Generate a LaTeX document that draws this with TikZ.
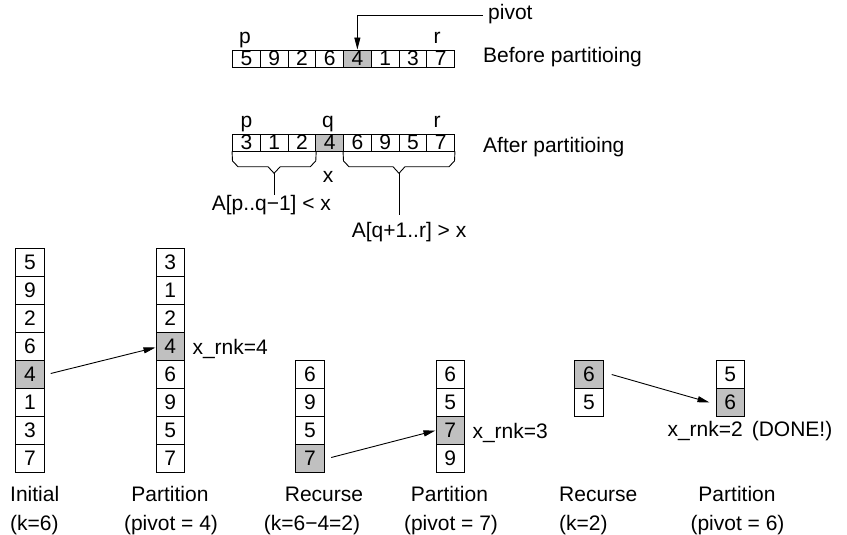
\documentclass[tikz,border=0pt]{standalone}
\usepackage{fontspec}
\setmainfont{Liberation Sans}
\usetikzlibrary{arrows.meta,calc}
\definecolor{cellgray}{RGB}{192,192,192}
\newcommand\lbfont{\fontsize{21}{25}\selectfont}
\begin{document}
\begin{tikzpicture}[x=1pt,y=-1pt,
  ln/.style={line width=0.9pt},
  cellA/.style={draw,line width=0.9pt,minimum width=27.75pt,minimum height=17pt,inner sep=0pt,font=\lbfont},
  cellB/.style={draw,line width=0.9pt,minimum width=28.5pt,minimum height=28pt,inner sep=0pt,font=\lbfont},
  hl/.style={fill=cellgray},
  pl/.style={},
  arr/.style={line width=0.9pt,-{Triangle[length=12pt,width=6pt]}},
  lbl/.style={inner sep=0pt,font=\lbfont}]
\fill[white] (0,0) rectangle (847,535);
\useasboundingbox (0,0) rectangle (847,535);

% before partitioning
\foreach \v/\s [count=\i] in {5/pl,9/pl,2/pl,6/pl,4/hl,1/pl,3/pl,7/pl}
  \node[cellA,\s] (b\i) at ({232.5+(\i-0.5)*27.75},58.5) {\v};
\node[lbl,anchor=base] (bp) at (245,43.5) {p};
\node[lbl,anchor=base] (br) at (437,43.5) {r};
\node[lbl,anchor=base west] (btxt) at (483,63) {Before partitioing};
\node[lbl,anchor=base west] (pivl) at (488,20) {pivot};
\coordinate (pv) at (483,15);
\draw[arr] (pv) -| (b5.north);

% after partitioning
\foreach \v/\s [count=\i] in {3/pl,1/pl,2/pl,4/hl,6/pl,9/pl,5/pl,7/pl}
  \node[cellA,\s] (a\i) at ({232.5+(\i-0.5)*27.75},142.5) {\v};
\node[lbl,anchor=base] (ap) at (246.5,128) {p};
\node[lbl,anchor=base] (aq) at (328,128) {q};
\node[lbl,anchor=base] (ar) at (437,128) {r};
\node[lbl,anchor=base west] (atxt) at (483,153) {After partitioing};
\node[lbl,anchor=base] (ax) at (328,182) {x};

\draw[ln] (a1.south west) -- (232.5,161) -- (238,166.7) -- (268,166.7) -- (274.1,173.3)
  -- (280.2,166.7) -- (310.25,166.7) -- (315.75,161) -- (a3.south east);
\draw[ln] (a5.south west) -- (343.5,161) -- (349,166.7) -- (393,166.7) -- (399,173.3)
  -- (405,166.7) -- (449,166.7) -- (454.5,161) -- (a8.south east);
\coordinate (lt) at (274.1,173.3);
\coordinate (le) at (274.1,195);
\coordinate (rt) at (399,173.3);
\coordinate (re) at (399,215);
\draw[ln] (lt) -- (le);
\draw[ln] (rt) -- (re);
\node[lbl,anchor=base west] (ll) at (211.7,210) {A[p..q−1] < x};
\node[lbl,anchor=base west] (rl) at (351.7,237) {A[q+1..r] > x};

% columns
\foreach \v/\s [count=\i] in {5/pl,9/pl,2/pl,6/pl,4/hl,1/pl,3/pl,7/pl}
  \node[cellB,\s] (c1\i) at (30,{248.5+(\i-0.5)*28}) {\v};
\foreach \v/\s [count=\i] in {3/pl,1/pl,2/pl,4/hl,6/pl,9/pl,5/pl,7/pl}
  \node[cellB,\s] (c2\i) at (170.2,{248.5+(\i-0.5)*28}) {\v};
\foreach \v/\s [count=\i] in {6/pl,9/pl,5/pl,7/hl}
  \node[cellB,\s] (c3\i) at (310,{360.5+(\i-0.5)*28}) {\v};
\foreach \v/\s [count=\i] in {6/pl,5/pl,7/hl,9/pl}
  \node[cellB,\s] (c4\i) at (450.2,{360.5+(\i-0.5)*28}) {\v};
\foreach \v/\s [count=\i] in {6/hl,5/pl}
  \node[cellB,\s] (c5\i) at (589,{360.5+(\i-0.5)*28}) {\v};
\foreach \v/\s [count=\i] in {5/pl,6/hl}
  \node[cellB,\s] (c6\i) at (730.2,{360.5+(\i-0.5)*28}) {\v};

\draw[arr] ($(c15.east)+(6,-1)$) -- ($(c24.west)+(0,1)$);
\draw[arr] ($(c34.east)+(6.5,-1)$) -- (c43.west);
\draw[arr] ($(c51.east)+(8,0)$) -- ($(c62.west)+(-6,0)$);

\node[lbl,anchor=base west] (xr4) at ($(c24.east)+(7.4,8)$) {x\_rnk=4};
\node[lbl,anchor=base west] (xr3) at ($(c43.east)+(7.4,7.5)$) {x\_rnk=3};
\node[lbl,anchor=base west] (xr2) at (667.3,436.5) {x\_rnk=2\hspace{9pt}(DONE!)};

% bottom labels
\node[lbl,anchor=base west] (l1a) at (10,501.7) {Initial};
\node[lbl,anchor=base west] (l1b) at (10,530) {(k=6)};
\node[lbl,anchor=base] (l2a) at (170,501.7) {Partition};
\node[lbl,anchor=base] (l2b) at (171,530) {(pivot = 4)};
\node[lbl,anchor=base] (l3a) at (324,501.7) {Recurse};
\node[lbl,anchor=base] (l3b) at (312,530) {(k=6−4=2)};
\node[lbl,anchor=base] (l4a) at (449.5,501.7) {Partition};
\node[lbl,anchor=base] (l4b) at (451,530) {(pivot = 7)};
\node[lbl,anchor=base west] (l5a) at (559,501.7) {Recurse};
\node[lbl,anchor=base west] (l5b) at (559,530) {(k=2)};
\node[lbl,anchor=base] (l6a) at (737,501.7) {Partition};
\node[lbl,anchor=base] (l6b) at (737.5,530) {(pivot = 6)};
\end{tikzpicture}
\end{document}
